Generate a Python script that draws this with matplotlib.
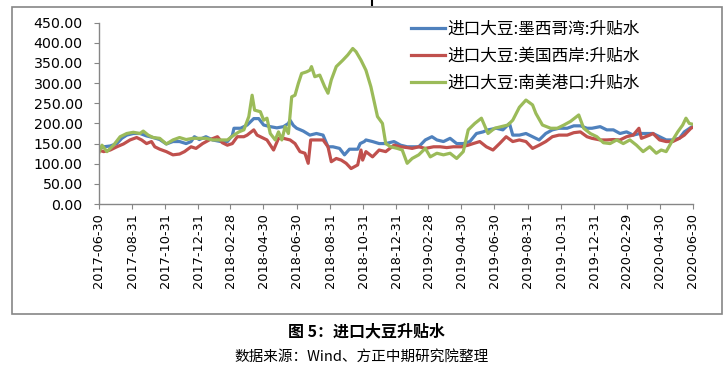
import matplotlib
matplotlib.use('Agg')
import matplotlib.pyplot as plt
import numpy as np
import pandas as pd
from matplotlib.patches import Rectangle
from matplotlib.lines import Line2D

plt.rcParams['font.family'] = ['DejaVu Sans']
CJK = ['Noto Sans CJK SC', 'DejaVu Sans']

# months elapsed since 2017-06-30 and values for each series
mex_m = [0, 0.3, 0.7, 1.1, 1.4, 1.7, 2.1, 2.5, 2.9, 3.3, 3.7, 4.1, 4.5, 4.9, 5.3, 5.6, 5.8, 6.1, 6.5, 6.9,
         7.4, 7.8, 8.1, 8.2, 8.6, 9.0, 9.4, 9.7, 10.0, 10.4, 10.8, 11.2, 11.5, 11.6, 11.8, 12.0, 12.4, 12.8,
         13.2, 13.6, 13.9, 14.2, 14.6, 14.9, 15.2, 15.7, 15.85, 16.1, 16.2, 16.6, 17.0, 17.4, 17.9, 18.3,
         18.7, 19.0, 19.4, 19.8, 20.2, 20.5, 20.9, 21.3, 21.7, 22.1, 22.5, 22.9, 23.3, 23.6, 24.1, 24.5,
         24.9, 25.1, 25.5, 25.9, 26.3, 26.7, 27.1, 27.5, 27.9, 28.4, 28.8, 29.2, 29.6, 29.9, 30.4, 30.8,
         31.2, 31.6, 32.0, 32.4, 32.8, 33.2, 33.6, 34.0, 34.4, 34.8, 35.2, 35.5, 35.9, 36.0]
mex_v = [137, 142, 144, 150, 163, 171, 175, 175, 169, 165, 160, 149, 155, 155, 150, 155, 167, 160, 167, 159,
         155, 155, 170, 188, 188, 196, 212, 212, 196, 192, 189, 192, 200, 208, 195, 188, 181, 171,
         175, 171, 142, 142, 138, 122, 136, 136, 150, 155, 159, 155, 150, 150, 155, 146,
         142, 142, 142, 159, 167, 159, 155, 163, 150, 150, 155, 175, 179, 184, 188, 184,
         200, 171, 171, 175, 167, 159, 175, 184, 188, 188, 194, 194, 188, 188, 192, 184,
         184, 175, 179, 171, 175, 175, 175, 167, 159, 159, 163, 179, 190, 192]

usw_m = [0, 0.3, 0.7, 1.1, 1.5, 1.9, 2.3, 2.6, 2.9, 3.2, 3.4, 3.7, 4.1, 4.5, 4.9, 5.2, 5.6, 5.9, 6.3, 6.7,
         7.2, 7.5, 7.8, 8.1, 8.4, 8.8, 9.0, 9.4, 9.6, 10.2, 10.6, 10.9, 11.2, 11.6, 11.9, 12.2, 12.5, 12.7,
         12.85, 13.2, 13.6, 13.9, 14.1, 14.4, 14.7, 15.0, 15.3, 15.7, 15.9, 16.0, 16.2, 16.6, 17.0, 17.4,
         17.9, 18.3, 18.7, 19.0, 19.4, 19.8, 20.3, 20.7, 21.1, 21.5, 22.0, 22.4, 22.7, 23.1, 23.5, 23.9,
         24.3, 24.7, 25.1, 25.5, 25.9, 26.3, 26.7, 27.1, 27.5, 27.9, 28.4, 28.8, 29.2, 29.6, 29.9, 30.4,
         30.8, 31.2, 31.6, 32.0, 32.4, 32.75, 32.9, 33.4, 33.6, 34.0, 34.4, 34.8, 35.2, 35.5, 35.9, 36.0]
usw_v = [134, 130, 134, 142, 149, 159, 165, 159, 150, 155, 142, 136, 130, 122, 124, 130, 142, 138, 150, 159,
         167, 152, 146, 150, 167, 167, 171, 184, 171, 159, 134, 163, 163, 159, 150, 130, 126, 101,
         159, 159, 159, 142, 105, 113, 109, 101, 88, 97, 134, 109, 130, 117, 134, 130,
         146, 142, 140, 138, 142, 138, 142, 142, 140, 142, 142, 146, 150, 155, 142, 134,
         150, 167, 155, 159, 155, 138, 146, 155, 167, 171, 171, 177, 179, 167, 163, 159,
         159, 160, 159, 167, 171, 188, 163, 171, 175, 159, 155, 155, 163, 171, 188, 190]

sam_m = [0, 0.2, 0.5, 0.9, 1.3, 1.7, 2.1, 2.5, 2.7, 3.0, 3.3, 3.7, 4.1, 4.5, 4.9, 5.3, 5.7, 6.1, 6.5, 6.9,
         7.4, 7.8, 8.2, 8.5, 8.8, 9.1, 9.3, 9.45, 9.8, 10.0, 10.2, 10.4, 10.7, 10.9, 11.1, 11.3, 11.5,
         11.7, 11.9, 12.1, 12.3, 12.6, 12.8, 12.9, 13.1, 13.4, 13.7, 13.9, 14.1, 14.4, 14.8, 15.1, 15.4,
         15.6, 15.9, 16.2, 16.5, 16.9, 17.2, 17.4, 17.7, 18.1, 18.4, 18.7, 19.0, 19.4, 19.8, 20.1, 20.5,
         20.9, 21.3, 21.7, 22.1, 22.4, 22.8, 23.2, 23.6, 24.0, 24.4, 24.8, 25.1, 25.5, 25.9, 26.3, 26.5,
         26.9, 27.4, 27.8, 28.2, 28.6, 29.1, 29.4, 29.8, 30.2, 30.6, 31.0, 31.4, 31.8, 32.2, 32.6, 33.0,
         33.4, 33.8, 34.1, 34.4, 34.8, 35.1, 35.4, 35.6, 35.8, 36.0]
sam_v = [126, 146, 130, 146, 167, 175, 178, 175, 181, 171, 165, 163, 149, 159, 165, 160, 163, 163, 163, 159,
         159, 159, 171, 179, 184, 217, 270, 233, 229, 208, 213, 175, 159, 179, 159, 192, 175,
         266, 270, 299, 324, 328, 332, 341, 316, 320, 291, 275, 308, 341, 357, 370, 386,
         378, 357, 332, 291, 217, 200, 150, 142, 138, 134, 101, 113, 122, 138, 117, 126,
         122, 126, 113, 130, 184, 200, 213, 175, 188, 192, 196, 208, 240, 258, 246, 225,
         196, 188, 188, 196, 205, 221, 188, 175, 167, 152, 150, 159, 150, 159, 146, 130,
         142, 126, 134, 130, 159, 179, 196, 213, 200, 198]

tick_labels = ['2017-06-30', '2017-08-31', '2017-10-31', '2017-12-31', '2018-02-28', '2018-04-30',
               '2018-06-30', '2018-08-31', '2018-10-31', '2018-12-31', '2019-02-28', '2019-04-30',
               '2019-06-30', '2019-08-31', '2019-10-31', '2019-12-31', '2020-02-29', '2020-04-30',
               '2020-06-30']
y_ticks = [0, 50, 100, 150, 200, 250, 300, 350, 400, 450]
series_names = ['进口大豆:墨西哥湾:升贴水', '进口大豆:美国西岸:升贴水', '进口大豆:南美港口:升贴水']
colors = ['#4F81BD', '#C0504D', '#9BBB59']
caption = '图 5：进口大豆升贴水'
source = '数据来源：Wind、方正中期研究院整理'

start = pd.Timestamp('2017-06-30')


def to_dates(months):
    return [start + pd.Timedelta(days=float(m) * 30.4375) for m in months]


W, H = 728, 368
fig = plt.figure(figsize=(W / 100, H / 100), dpi=100)
ax = fig.add_axes([98.7 / W, 1 - 204 / H, (692.7 - 98.7) / W, (204 - 22.7) / H])

for (mm, vv), name, c in zip([(mex_m, mex_v), (usw_m, usw_v), (sam_m, sam_v)], series_names, colors):
    ax.plot(to_dates(mm), vv, color=c, lw=2.3, label=name, solid_joinstyle='round')

tick_dates = pd.to_datetime(tick_labels)
ax.set_xticks(tick_dates)
ax.set_xticklabels(tick_labels, rotation=90, fontsize=9.3)
ax.set_xlim(tick_dates[0], tick_dates[-1])
ax.set_ylim(0, 450)
ax.set_yticks(y_ticks)
ax.set_yticklabels([f'{v:.2f}' for v in y_ticks], fontsize=10.2)

gray = '#868686'
for s in ['top', 'right']:
    ax.spines[s].set_visible(False)
for s in ['left', 'bottom']:
    ax.spines[s].set_color(gray)
    ax.spines[s].set_linewidth(1.0)
ax.tick_params(axis='x', direction='out', length=3.5, color=gray, pad=3, labelcolor='black')
ax.tick_params(axis='y', direction='out', length=3.5, color=gray, pad=8, labelcolor='black')

leg = fig.legend(loc='upper left', bbox_to_anchor=(411 / W, 1 - 21 / H), frameon=False,
                 prop={'family': CJK, 'size': 12}, handlelength=2.05, handletextpad=0.12,
                 labelspacing=0.6, borderpad=0, borderaxespad=0)

fig.add_artist(Rectangle((12 / W, 1 - 314 / H), 710 / W, 307 / H, transform=fig.transFigure,
                         fill=False, edgecolor=gray, lw=1.2))
fig.add_artist(Line2D([372.5 / W, 372.5 / W], [1.0, 1 - 5 / H], transform=fig.transFigure,
                      color='black', lw=1.5))

fig.text(367 / W, 1 - 331 / H, caption, ha='center', va='center', family=CJK,
         fontsize=11.5, fontweight='bold')
fig.text(362 / W, 1 - 357 / H, source, ha='center', va='center', family=CJK, fontsize=10.5)

fig.savefig('out.png', dpi=100)
